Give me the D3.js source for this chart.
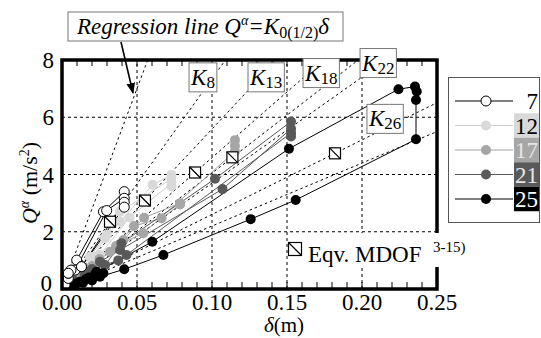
<!DOCTYPE html>
<html>
<head>
<meta charset="utf-8">
<script src="https://cdn.jsdelivr.net/npm/d3@7"></script>
<style>
  html, body { margin: 0; padding: 0; background: #fff; }
  svg { display: block; }
</style>
</head>
<body>
<svg id="chart" width="541" height="338" font-family="'Liberation Serif', 'Times New Roman', 'DejaVu Serif', serif"></svg>
<script>
// ---- data -------------------------------------------------------------
const groups = ["7", "12", "17", "21", "25"];
const groupFill = { "7": "#ffffff", "12": "#d9d9d9", "17": "#a6a6a6", "21": "#595959", "25": "#000000" };
const groupLine = { "7": "#000000", "12": "#d0d0d0", "17": "#a0a0a0", "21": "#595959", "25": "#000000" };

// response curves [delta (m), Q^alpha (m/s^2)] per building group
const series7 = [
  [[0,0],[0.002,0.14],[0.0042,0.37],[0.0098,1.01],[0.0276,2.70],[0.0415,3.40]],
  [[0,0],[0.0042,0.55],[0.0087,0.66],[0.0298,2.74],[0.0415,3.17]],
  [[0,0],[0.006,0.66],[0.013,0.78],[0.0415,3.03]],
  [[0,0],[0.0042,0.55],[0.013,0.78],[0.0415,2.86]]
];
const series12 = [
  [[0,0],[0.003,0.25],[0.0087,0.80],[0.0187,1.13],[0.0298,1.89],[0.0387,2.35],[0.0604,3.64],[0.073,3.99]],
  [[0,0],[0.005,0.40],[0.0209,1.13],[0.0287,1.77],[0.0387,2.70],[0.073,3.85]],
  [[0,0],[0.006,0.45],[0.0253,1.19],[0.045,2.50],[0.073,3.70],[0.073,3.58]]
];
const series17 = [
  [[0,0],[0.004,0.20],[0.012,0.55],[0.025,1.05],[0.041,1.71],[0.0547,2.49],[0.0787,3.00]],
  [[0,0],[0.005,0.25],[0.015,0.65],[0.032,1.30],[0.048,2.20],[0.0664,2.47],[0.0787,2.95]],
  [[0,0],[0.006,0.30],[0.020,0.80],[0.036,1.50],[0.0542,1.95],[0.1153,4.80],[0.1153,5.00],[0.1153,5.20]]
];
const series21 = [
  [[0,0],[0.005,0.20],[0.015,0.50],[0.0287,0.84],[0.0397,1.60],[0.102,3.85],[0.1527,5.85]],
  [[0,0],[0.006,0.22],[0.018,0.60],[0.0253,0.95],[0.0387,1.36],[0.107,3.49],[0.1527,5.60]],
  [[0,0],[0.008,0.30],[0.020,0.70],[0.0375,1.00],[0.043,1.19],[0.1527,5.45],[0.1527,5.33]]
];
const series25 = [
  [[0,0],[0.003,0.05],[0.008,0.12],[0.014,0.22],[0.020,0.30],[0.0253,0.43],[0.0415,0.69],[0.0676,1.19],[0.1258,2.44],[0.1558,3.11],[0.236,5.23],[0.236,6.60],[0.2365,6.90]],
  [[0,0],[0.004,0.08],[0.010,0.20],[0.016,0.35],[0.023,0.60],[0.0602,1.65],[0.1513,4.90],[0.2243,6.98],[0.2353,7.07]],
  [[0,0],[0.005,0.10],[0.012,0.25],[0.018,0.40],[0.022,0.50],[0.0276,0.55]]
];
const seriesByGroup = { "7": series7, "12": series12, "17": series17, "21": series21, "25": series25 };

// equivalent MDOF results (8, 13, 18, 22, 26 storeys)
const mdofStoreys = ["8", "13", "18", "22", "26"];
const eqvMdof = [[0.032,2.35],[0.0553,3.09],[0.0887,4.07],[0.1136,4.60],[0.182,4.74]];

// regression stiffness K0(1/2) of the response groups (slope in 1/s^2)
const regressionSlopes = [140, 37, 22];

// stiffness label boxes: [subscript, delta of box left, Q of box top]
const stiffLabels = [
  ["8", 0.0847, 7.9], ["13", 0.124, 7.9], ["18", 0.1607, 8.05], ["22", 0.1987, 8.4], ["26", 0.2033, 6.45]
];

const xTicks = [0, 0.05, 0.10, 0.15, 0.20, 0.25];
const yTicks = [0, 2, 4, 6, 8];

// ---- layout -----------------------------------------------------------
const svg = d3.select("#chart");
const x = d3.scaleLinear().domain([0, 0.25]).range([62, 437]);
const y = d3.scaleLinear().domain([0, 8]).range([289, 60]);

svg.append("rect").attr("width", 541).attr("height", 338).attr("fill", "#fff");

const defs = svg.append("defs");
defs.append("clipPath").attr("id", "plotClip")
  .append("rect").attr("x", x(0)).attr("y", y(8)).attr("width", x(0.25) - x(0)).attr("height", y(0) - y(8));
defs.append("marker").attr("id", "arrowHead").attr("viewBox", "0 0 10 10")
  .attr("refX", 9).attr("refY", 5).attr("markerWidth", 11).attr("markerHeight", 11)
  .attr("markerUnits", "userSpaceOnUse").attr("orient", "auto")
  .append("path").attr("d", "M0,1 L10,5 L0,9 Z").attr("fill", "#000");

const plot = svg.append("g").attr("clip-path", "url(#plotClip)");

// dashed grid
plot.selectAll("line.gx").data(xTicks.slice(1, -1)).join("line")
  .attr("x1", d => x(d)).attr("x2", d => x(d)).attr("y1", y(0)).attr("y2", y(8))
  .attr("stroke", "#000").attr("stroke-width", 1).attr("stroke-dasharray", "3,3");
plot.selectAll("line.gy").data(yTicks.slice(1, -1)).join("line")
  .attr("x1", x(0)).attr("x2", x(0.25)).attr("y1", d => y(d)).attr("y2", d => y(d))
  .attr("stroke", "#000").attr("stroke-width", 1).attr("stroke-dasharray", "3,3");

// stiffness lines through the origin: regressions and equivalent-MDOF secants
const slopes = regressionSlopes.concat(eqvMdof.map(d => d[1] / d[0]));
plot.selectAll("line.k").data(slopes).join("line")
  .attr("x1", x(0)).attr("y1", y(0))
  .attr("x2", s => x(Math.min(0.25, 9 / s))).attr("y2", s => y(Math.min(0.25, 9 / s) * s))
  .attr("stroke", "#000").attr("stroke-width", 1).attr("stroke-dasharray", "2.5,3");

// response curves
const line = d3.line().x(d => x(d[0])).y(d => y(d[1]));
const drawOrder = ["12", "17", "21", "25", "7"];
drawOrder.forEach(g => {
  const gg = plot.append("g");
  gg.selectAll("path").data(seriesByGroup[g]).join("path")
    .attr("d", line).attr("fill", "none").attr("stroke", groupLine[g]).attr("stroke-width", 1);
});
drawOrder.forEach(g => {
  const pts = seriesByGroup[g].flatMap(s => s.slice(1));
  plot.append("g").selectAll("circle").data(pts).join("circle")
    .attr("cx", d => x(d[0])).attr("cy", d => y(d[1])).attr("r", 5)
    .attr("fill", groupFill[g])
    .attr("stroke", g === "7" ? "#000" : "none").attr("stroke-width", 1);
});

// equivalent MDOF squares
function mdofSquare(sel, cx, cy, s) {
  sel.append("rect").attr("x", cx - s / 2).attr("y", cy - s / 2).attr("width", s).attr("height", s)
    .attr("fill", "#fff").attr("stroke", "#000").attr("stroke-width", 1.2);
  sel.append("line").attr("x1", cx - s / 2).attr("y1", cy - s / 2).attr("x2", cx + s / 2).attr("y2", cy + s / 2)
    .attr("stroke", "#000").attr("stroke-width", 1.2);
}
eqvMdof.forEach(d => mdofSquare(plot.append("g"), x(d[0]), y(d[1]), 11));

// frame
svg.append("rect").attr("x", x(0)).attr("y", y(8)).attr("width", x(0.25) - x(0)).attr("height", y(0) - y(8))
  .attr("fill", "none").attr("stroke", "#000").attr("stroke-width", 3.5);

// minor ticks along top and bottom
const minorX = d3.range(0, 0.2501, 0.01);
svg.append("g").selectAll("line").data(minorX).join("line")
  .attr("x1", d => x(d)).attr("x2", d => x(d)).attr("y1", y(0)).attr("y2", y(0) - 7)
  .attr("stroke", "#000").attr("stroke-width", 1);
svg.append("g").selectAll("line").data(minorX).join("line")
  .attr("x1", d => x(d)).attr("x2", d => x(d)).attr("y1", y(8)).attr("y2", y(8) + 6)
  .attr("stroke", "#000").attr("stroke-width", 1);

// tick labels
svg.append("g").selectAll("text").data(xTicks).join("text")
  .attr("x", d => x(d)).attr("y", 310).attr("text-anchor", "middle")
  .attr("font-size", 23).text(d => d3.format(".2f")(d));
svg.append("g").selectAll("text").data(yTicks).join("text")
  .attr("x", d => d === 0 ? 52 : 54).attr("y", d => y(d) + (d === 0 ? 2 : 8)).attr("text-anchor", "end")
  .attr("font-size", 23).text(d => d);

// axis titles
const xt = svg.append("text").attr("x", 264).attr("y", 332).attr("font-size", 21);
xt.append("tspan").attr("font-style", "italic").text("δ");
xt.append("tspan").text("(m)");

const yt = svg.append("text").attr("transform", "translate(37,183) rotate(-90)")
  .attr("text-anchor", "middle").attr("font-size", 22);
yt.append("tspan").attr("font-style", "italic").text("Q");
yt.append("tspan").attr("font-style", "italic").attr("font-size", 14).attr("dy", -8).text("α");
yt.append("tspan").attr("dy", 8).text(" (m/s");
yt.append("tspan").attr("font-size", 14).attr("dy", -8).text("2");
yt.append("tspan").attr("dy", 8).text(")");

// stiffness labels
stiffLabels.forEach(([sub, d0, q0]) => {
  const bx = x(d0), by = y(q0);
  const g = svg.append("g");
  const t = g.append("text").attr("x", bx + 2).attr("y", by + 22).attr("font-size", 23);
  t.append("tspan").attr("font-style", "italic").text("K");
  t.append("tspan").attr("font-size", 17).attr("dy", 3).text(sub);
  const w = t.node().getComputedTextLength() + 4;
  g.insert("rect", "text").attr("x", bx).attr("y", by).attr("width", w).attr("height", 29)
    .attr("fill", "#fff").attr("stroke", "#777").attr("stroke-width", 1);
});

// equivalent MDOF legend
const eg = svg.append("g");
eg.append("rect").attr("x", 302).attr("y", 233).attr("width", 175).attr("height", 34).attr("fill", "#fff");
mdofSquare(eg, 295, 249, 13);
eg.append("text").attr("x", 308).attr("y", 262).attr("font-size", 23).text("Eqv. MDOF");
eg.append("text").attr("x", 433).attr("y", 252).attr("font-size", 15).text("3-15)");

// regression annotation
const rg = svg.append("g");
rg.append("rect").attr("x", 68).attr("y", 12).attr("width", 275).attr("height", 29)
  .attr("fill", "#fff").attr("stroke", "#777").attr("stroke-width", 1);
const rt = rg.append("text").attr("x", 77).attr("y", 34).attr("font-size", 23).attr("font-style", "italic");
rt.append("tspan").text("Regression line Q");
rt.append("tspan").attr("font-size", 14).attr("dy", -9).text("α");
rt.append("tspan").attr("dy", 9).text("=K");
rt.append("tspan").attr("font-style", "normal").attr("font-size", 16).attr("dy", 4).text("0(1/2)");
rt.append("tspan").attr("dy", -4).text("δ");
rg.append("line").attr("x1", 121).attr("y1", 42).attr("x2", 133).attr("y2", 93)
  .attr("stroke", "#000").attr("stroke-width", 1.6).attr("marker-end", "url(#arrowHead)");

// group legend
const lg = svg.append("g");
lg.append("rect").attr("x", 448.5).attr("y", 77.5).attr("width", 91).attr("height", 145)
  .attr("fill", "#fff").attr("stroke", "#555").attr("stroke-width", 1);
const labelBg = { "7": "#ffffff", "12": "#d9d9d9", "17": "#a6a6a6", "21": "#595959", "25": "#000000" };
const labelFg = { "7": "#000", "12": "#000", "17": "#e6e6e6", "21": "#e6e6e6", "25": "#fff" };
groups.forEach((g, i) => {
  const cy = 101 + i * 24.5;
  lg.append("line").attr("x1", 455).attr("x2", 513).attr("y1", cy).attr("y2", cy)
    .attr("stroke", groupLine[g]).attr("stroke-width", 1);
  lg.append("circle").attr("cx", 486).attr("cy", cy).attr("r", 5)
    .attr("fill", groupFill[g]).attr("stroke", g === "7" ? "#000" : "none");
  if (g !== "7") {
    lg.append("rect").attr("x", 514).attr("y", cy - 12.25).attr("width", 25).attr("height", 24.5)
      .attr("fill", labelBg[g]);
  }
  lg.append("text").attr("x", 538).attr("y", cy + 8).attr("text-anchor", "end")
    .attr("font-size", 23).attr("fill", labelFg[g]).text(g);
});
</script>
</body>
</html>
